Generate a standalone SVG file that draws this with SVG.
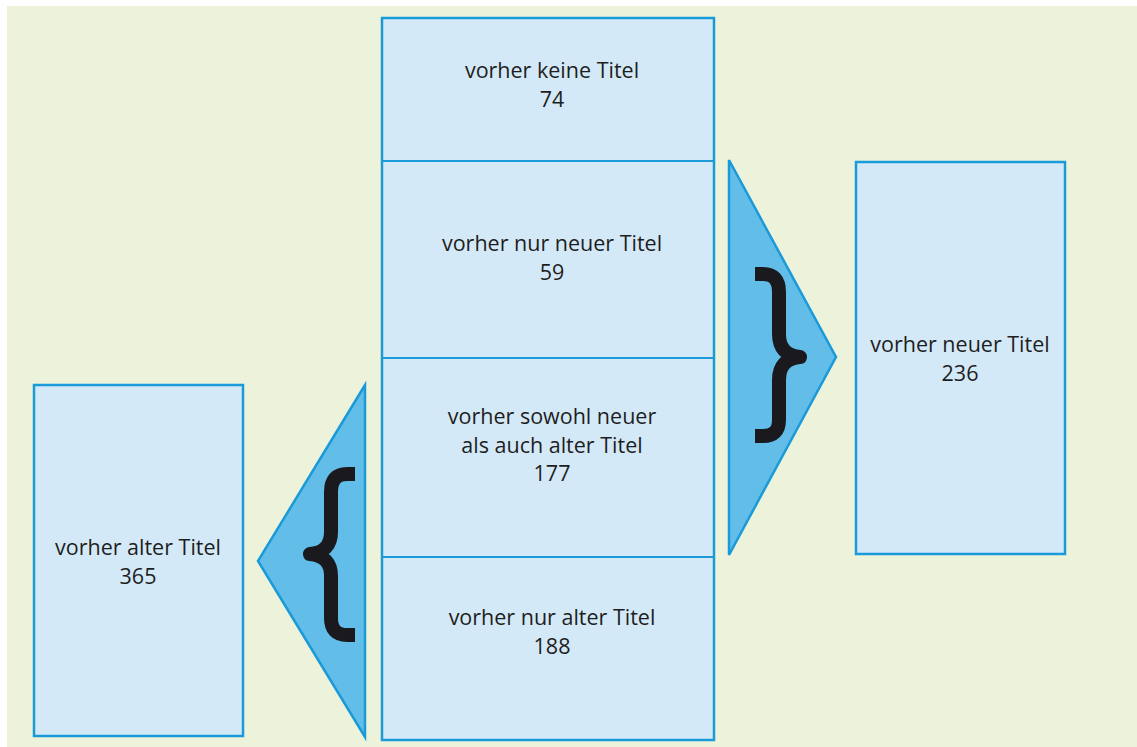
<svg xmlns="http://www.w3.org/2000/svg" width="1137" height="747" viewBox="0 0 1137 747">
<style>
.box{fill:#d4e9f7;stroke:#1a9ad8;stroke-width:2.5}
.div{stroke:#1a9ad8;stroke-width:2}
.tri{fill:#62bde9;stroke:#1a9ad8;stroke-width:2.5;stroke-linejoin:miter}
.brace{fill:none;stroke:#1a1a1e;stroke-width:14;stroke-linejoin:round}
text{font-family:"Open Sans","Liberation Sans",sans-serif;font-size:21.5px;fill:#1e1e22;text-anchor:middle}
</style>
<rect x="0" y="0" width="1137" height="747" fill="#ffffff"/>
<rect x="7" y="6" width="1130" height="741" fill="#edf3da"/>
<g id="connectors">
  <g id="triangle-right">
    <polygon class="tri" points="729,160 836,357 729,555"/>
    <path class="brace" d="M755,274 L763,274 Q779,274 779,292 L779,334 Q779,355 800,357 Q779,359 779,380 L779,420 Q779,436 763,436 L755,436"/>
  </g>
  <g id="triangle-left">
    <polygon class="tri" points="365,385 258,561 365,737"/>
    <path class="brace" d="M355,474 L347,474 Q331,474 331,492 L331,532 Q331,552 310,554 Q331,556 331,576 L331,618 Q331,635 347,635 L355,635"/>
  </g>
</g>
<g id="center-column">
  <rect class="box" x="382" y="18" width="332" height="722"/>
  <line class="div" x1="382" y1="161" x2="714" y2="161"/>
  <line class="div" x1="382" y1="358" x2="714" y2="358"/>
  <line class="div" x1="382" y1="557" x2="714" y2="557"/>
</g>
<g id="node-keine">
  <text x="552" y="78">vorher keine Titel</text>
  <text x="552" y="107">74</text>
</g>
<g id="node-nur-neuer">
  <text x="552" y="251">vorher nur neuer Titel</text>
  <text x="552" y="280">59</text>
</g>
<g id="node-sowohl">
  <text x="552" y="424">vorher sowohl neuer</text>
  <text x="552" y="452.5">als auch alter Titel</text>
  <text x="552" y="481">177</text>
</g>
<g id="node-nur-alter">
  <text x="552" y="625">vorher nur alter Titel</text>
  <text x="552" y="654">188</text>
</g>
<g id="node-neuer">
  <rect class="box" x="856" y="162" width="209" height="392"/>
  <text x="960" y="352">vorher neuer Titel</text>
  <text x="960" y="381">236</text>
</g>
<g id="node-alter">
  <rect class="box" x="34" y="385" width="209" height="351"/>
  <text x="138" y="555">vorher alter Titel</text>
  <text x="138" y="584">365</text>
</g>
</svg>
